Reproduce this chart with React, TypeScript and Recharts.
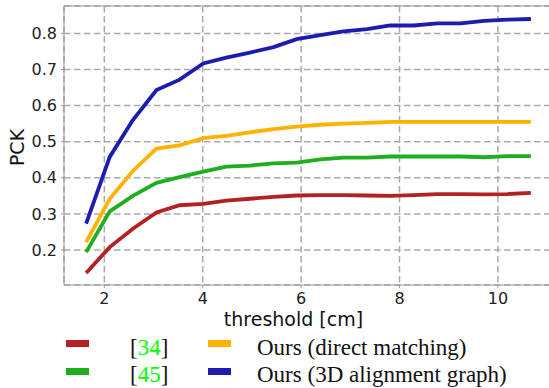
import { LineChart, Line, XAxis, YAxis, CartesianGrid, ReferenceLine, Label } from "recharts";

const thresholds = [
  1.63, 2.11, 2.58, 3.06, 3.53, 4.01, 4.48, 4.96, 5.44, 5.91,
  6.39, 6.86, 7.34, 7.81, 8.29, 8.77, 9.24, 9.72, 10.19, 10.67,
];

const ref34 = [
  0.136, 0.208, 0.259, 0.304, 0.324, 0.328, 0.337, 0.342, 0.347, 0.351,
  0.352, 0.352, 0.351, 0.35, 0.352, 0.355, 0.355, 0.354, 0.355, 0.358,
];

const ref45 = [
  0.194, 0.307, 0.35, 0.386, 0.402, 0.417, 0.431, 0.434, 0.44, 0.442,
  0.451, 0.456, 0.456, 0.459, 0.459, 0.459, 0.459, 0.457, 0.46, 0.46,
];

const oursDirect = [
  0.222, 0.342, 0.419, 0.481, 0.49, 0.51, 0.516, 0.526, 0.535, 0.542,
  0.547, 0.55, 0.552, 0.555, 0.555, 0.555, 0.555, 0.555, 0.555, 0.555,
];

const oursGraph = [
  0.273, 0.458, 0.56, 0.643, 0.672, 0.717, 0.733, 0.747, 0.762, 0.784,
  0.795, 0.806, 0.812, 0.822, 0.822, 0.828, 0.828, 0.835, 0.838, 0.84,
];

const xTicks = [2, 4, 6, 8, 10];
const yTicks = [0.2, 0.3, 0.4, 0.5, 0.6, 0.7, 0.8];

const X_DOMAIN: [number, number] = [1.18, 11.12];
const Y_DOMAIN: [number, number] = [0.103, 0.876];

const series = [
  { key: "ref34", color: "#b22222" },
  { key: "ref45", color: "#1fae1f" },
  { key: "oursDirect", color: "#ffb300" },
  { key: "oursGraph", color: "#1c1cae" },
];

const data = thresholds.map((x, i) => ({
  x,
  ref34: ref34[i],
  ref45: ref45[i],
  oursDirect: oursDirect[i],
  oursGraph: oursGraph[i],
}));

const AXIS = "#999999";
const tickStyle = { fontSize: 16, fill: "#222", fontFamily: "DejaVu Sans" };

function XLabel(props: any) {
  const { viewBox } = props;
  const cx = viewBox.x + viewBox.width / 2 - 15;
  return (
    <text x={cx} y={326} textAnchor="middle" fontSize={19} fontFamily="DejaVu Sans" fill="#111">
      threshold [cm]
    </text>
  );
}

function YLabel(props: any) {
  const { viewBox } = props;
  const cy = viewBox.y + viewBox.height / 2 + 2;
  return (
    <text
      x={24}
      y={cy}
      transform={`rotate(-90 24 ${cy})`}
      textAnchor="middle"
      fontSize={19}
      fontFamily="DejaVu Sans"
      fill="#111"
    >
      PCK
    </text>
  );
}

function LegendBox() {
  const serif = "'Liberation Serif', 'Times New Roman', serif";
  const green = "#00ff00";
  return (
    <svg width={549} height={70} style={{ position: "absolute", left: 0, top: 318 }}>
      <rect x={66} y={22} width={23} height={7} fill="#b22222" />
      <rect x={66} y={50} width={23} height={7} fill="#1fae1f" />
      <rect x={208} y={22} width={23} height={7} fill="#ffb300" />
      <rect x={208} y={50} width={23} height={7} fill="#1c1cae" />
      <text x={130} y={36.5} fontSize={23} fontFamily={serif} fill="#111">
        [<tspan fill={green}>34</tspan>]
      </text>
      <text x={130} y={63.5} fontSize={23} fontFamily={serif} fill="#111">
        [<tspan fill={green}>45</tspan>]
      </text>
      <text x={257} y={36.5} fontSize={23} fontFamily={serif} fill="#111">
        Ours (direct matching)
      </text>
      <text x={257} y={63.5} fontSize={23} fontFamily={serif} fill="#111">
        Ours (3D alignment graph)
      </text>
    </svg>
  );
}

export default function App() {
  return (
    <div
      style={{
        position: "absolute",
        left: 0,
        top: 0,
        width: 549,
        height: 388,
        overflow: "hidden",
        background: "#fff",
      }}
    >
      <LineChart
        width={560}
        height={388}
        data={data}
        margin={{ top: 6, right: 7, bottom: 73, left: 0 }}
      >
        <CartesianGrid stroke="#aaaaaa" strokeWidth={1.5} strokeDasharray="6.5 3.5" />
        <XAxis
          dataKey="x"
          type="number"
          domain={X_DOMAIN}
          ticks={xTicks}
          allowDataOverflow
          height={30}
          stroke={AXIS}
          tickSize={3}
          tickMargin={5}
          tick={tickStyle}
        >
          <Label content={<XLabel />} />
        </XAxis>
        <YAxis
          type="number"
          domain={Y_DOMAIN}
          ticks={yTicks}
          allowDataOverflow
          width={64}
          stroke={AXIS}
          tickSize={3}
          tickMargin={4}
          tick={tickStyle}
          tickFormatter={(v: number) => v.toFixed(1)}
        >
          <Label content={<YLabel />} />
        </YAxis>
        <ReferenceLine y={Y_DOMAIN[1]} stroke={AXIS} strokeWidth={1} />
        {series.map((s) => (
          <Line
            key={s.key}
            dataKey={s.key}
            type="linear"
            stroke={s.color}
            strokeWidth={3.8}
            dot={false}
            activeDot={false}
            isAnimationActive={false}
          />
        ))}
      </LineChart>
      <LegendBox />
    </div>
  );
}
